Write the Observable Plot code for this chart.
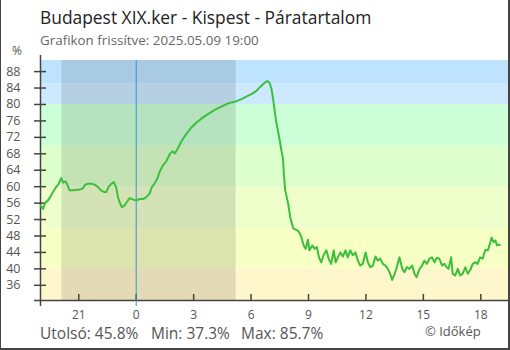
<!DOCTYPE html>
<html><head><meta charset="utf-8">
<script src="https://cdn.jsdelivr.net/npm/d3@7"></script>
<script src="https://cdn.jsdelivr.net/npm/@observablehq/plot@0.6"></script>
<style>
html,body{margin:0;padding:0;background:#fff;}
#wrap{position:relative;width:510px;height:350px;overflow:hidden;}
#frame{position:absolute;left:0;top:0;width:510px;height:350px;box-sizing:border-box;border-left:1px solid #444;border-right:2px solid #444;border-bottom:2px solid #444;pointer-events:none;}
svg text{font-family:"Open Sans",sans-serif;}
</style></head><body>
<div id="wrap"><div id="chart"></div><div id="frame"></div></div>
<script>
const title = "Budapest XIX.ker - Kispest - Páratartalom";
const subtitle = "Grafikon frissítve: 2025.05.09 19:00";
const yUnit = "%";
const credit = "© Időkép";

const times = ["19:00","19:08","19:15","19:23","19:32","19:39","19:49","19:57","20:05","20:11","20:18","20:24","20:31","20:42","20:52","21:03","21:13","21:20","21:29","21:39","21:50","22:00","22:10","22:19","22:26","22:33","22:42","22:50","22:57","23:03","23:08","23:15","23:23","23:32","23:39","23:49",
"00:00","00:10","00:21","00:31","00:42","00:49","00:57","01:06","01:13","01:23","01:35","01:45","01:53","02:01","02:09","02:17","02:27","02:38","02:53","03:09","03:25","03:40","03:56","04:11","04:27","04:43","04:58","05:14","05:30","05:45","06:01","06:17","06:30","06:43","06:51","06:58",
"07:04","07:09","07:14","07:19","07:24","07:30","07:35","07:40","07:43","07:47","07:56","08:03","08:08","08:13","08:22","08:30","08:37","08:45","08:51","08:58","09:03","09:12","09:19","09:26","09:33","09:40","09:47","09:56",
"10:03","10:11","10:19","10:25","10:32","10:40","10:48","10:56","11:03","11:11","11:19","11:27","11:35","11:42","11:50","11:59","12:06","12:14","12:22","12:30","12:37","12:45","12:53","13:01","13:09","13:16","13:22","13:30","13:37","13:45","13:54",
"14:01","14:08","14:16","14:25","14:32","14:39","14:48","14:56","15:03","15:11","15:19","15:27","15:35","15:42","15:50","15:59","16:06","16:13","16:19","16:27","16:32","16:40","16:48","16:55","17:03","17:12","17:19","17:26","17:35","17:43","17:50","17:58","18:06","18:14","18:22","18:27","18:34","18:40","18:46","18:51","18:56","19:00"];
const values = [55.4,54.6,56.1,56.6,57.7,58.7,59.9,60.7,62.1,61.0,61.3,60.5,59.1,59.1,59.2,59.3,59.6,60.5,60.7,60.7,60.5,59.9,59.1,58.7,58.7,59.9,60.7,61.1,59.9,57.4,56.2,55.0,55.4,56.4,57.2,56.9,
56.6,57.0,57.0,57.4,58.3,59.9,60.7,61.9,63.5,65.1,66.3,67.9,68.6,68.1,69.1,70.3,71.7,72.9,74.4,75.6,76.6,77.4,78.2,78.9,79.5,80.1,80.5,80.8,81.3,81.9,82.5,83.3,84.4,85.3,85.7,85.3,
83.8,81.4,78.5,75.7,73.7,71.2,68.8,66.8,63.0,59.1,56.0,52.5,51.0,49.8,49.5,49.0,47.9,45.7,44.9,47.1,44.5,45.7,44.9,45.3,42.8,41.6,43.3,44.5,
42.5,41.2,44.5,41.6,42.8,44.0,43.0,44.5,42.8,44.5,43.3,44.0,42.0,40.8,41.2,44.0,41.6,40.4,40.8,43.0,42.0,42.5,41.2,40.8,40.0,38.8,37.3,38.8,40.4,42.8,40.0,
39.2,40.4,40.0,40.8,38.8,38.0,40.0,40.8,42.0,41.2,42.5,42.8,41.6,42.7,42.5,40.8,41.2,40.4,40.0,42.8,38.8,38.4,40.0,38.4,38.8,40.4,38.8,39.6,41.2,41.6,41.2,42.8,42.5,44.6,44.5,45.7,47.6,46.5,46.9,45.7,45.9,45.8];

const xTickHours = [21,0,3,6,9,12,15,18];
const xTickLabels = ["21","0","3","6","9","12","15","18"];
const yTicks = [36,40,44,48,52,56,60,64,68,72,76,80,84,88];
const bandEdges = [40,50,60,70,80,85];
const nightStart = "20:07"; // day 1
const nightEnd = "05:13";   // day 2

// styles
const bandColors = ["#fff7cc","#f6ffc4","#eeffcc","#ddffcc","#ccffd8","#cce9ff","#bde3ff"];

const D = (day,h,m) => new Date(Date.UTC(2025,4,day,h,m));
let day = 8, prev = -1;
const data = times.map((t,i) => {
  const [h,m] = t.split(":").map(Number);
  const mins = h*60+m;
  if (mins < prev) day++;
  prev = mins;
  return {date: D(day,h,m), value: values[i]};
});
const xDomain = [D(8,19,0), D(9,19,30)];
const vMin = d3.min(values), vMax = d3.max(values), vLast = values[values.length-1];
const yDomain = [vMin-5, vMax+5];
const lows = [yDomain[0], ...bandEdges], highs = [...bandEdges, yDomain[1]];
const bands = lows.map((lo,i)=>({lo, hi: highs[i], fill: bandColors[i]}));
const [nsh,nsm] = nightStart.split(":").map(Number), [neh,nem] = nightEnd.split(":").map(Number);
const night = [{start: D(8,nsh,nsm), end: D(9,neh,nem)}];
const midnight = D(9,0,0);
const xTickDates = xTickHours.map(h => h >= 19 ? D(8,h,0) : D(9,h,0));

const chart = Plot.plot({
  width: 510, height: 350,
  marginLeft: 40, marginRight: 1, marginTop: 60, marginBottom: 50,
  style: {fontFamily: "'Open Sans', sans-serif", fontSize: "12px", color: "#555", background: "transparent", overflow: "visible"},
  x: {type: "utc", domain: xDomain},
  y: {domain: yDomain},
  color: {type: "identity"},
  marks: [
    Plot.rect(bands, {x1: () => xDomain[0], x2: () => xDomain[1], y1: "lo", y2: "hi", fill: "fill"}),
    Plot.rect(night, {x1: "start", x2: "end", y1: () => yDomain[0], y2: () => yDomain[1], fill: "#000", fillOpacity: 0.11}),
    Plot.axisY({ticks: yTicks, tickSize: 12, dx: 6, tickPadding: 14, stroke: "#444", strokeWidth: 1.5, label: null, tickFormat: d => String(d), fill: "#555", fontSize: 12.5}),
    Plot.axisX({ticks: xTickDates, tickSize: 6, dy: -6, tickPadding: 10, stroke: "#444", strokeWidth: 1.5, label: null,
      tickFormat: d => xTickLabels[xTickDates.findIndex(t => +t === +d)], fill: "#555", fontSize: 12}),
    Plot.ruleY([yDomain[0]], {stroke: "#444", strokeWidth: 1.5, insetLeft: -6}),
    Plot.ruleX([xDomain[0]], {stroke: "#444", strokeWidth: 1.5, insetTop: -5, insetBottom: -6}),
    Plot.ruleX([midnight], {stroke: "#3b8fd1", strokeWidth: 1, insetBottom: -6}),
    Plot.line(data, {x: "date", y: "value", stroke: "#3cbf3c", strokeWidth: 2})
  ]
});
document.getElementById("chart").appendChild(chart);

const svg = d3.select(chart);
const addText = (x, y, txt, size, fill, anchor="start") =>
  svg.append("text").attr("x", x).attr("y", y).attr("font-size", size).attr("fill", fill)
     .attr("text-anchor", anchor).style("font-family", "'Open Sans', sans-serif").text(txt);
addText(40, 24, title, 17.4, "#222");
addText(40, 45, subtitle, 13.4, "#666");
addText(17, 55, yUnit, 12, "#555", "middle");
addText(40, 339, `Utolsó: ${vLast.toFixed(1)}%`, 15.5, "#555");
addText(151, 339, `Min: ${vMin.toFixed(1)}%`, 15.5, "#555");
addText(241, 339, `Max: ${vMax.toFixed(1)}%`, 15.5, "#555");
addText(425, 336, credit, 13, "#555");
</script>
</body></html>
